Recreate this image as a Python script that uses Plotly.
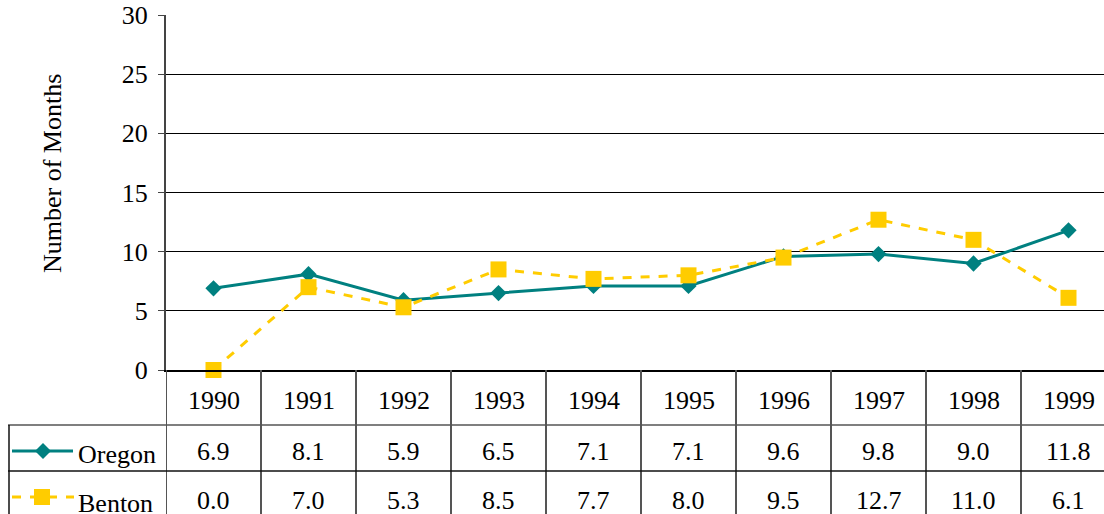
import plotly.graph_objects as go

years = ["1990", "1991", "1992", "1993", "1994", "1995", "1996", "1997", "1998", "1999"]
oregon = [6.9, 8.1, 5.9, 6.5, 7.1, 7.1, 9.6, 9.8, 9.0, 11.8]
benton = [0.0, 7.0, 5.3, 8.5, 7.7, 8.0, 9.5, 12.7, 11.0, 6.1]

TEAL = "#008080"
GOLD = "#FFCC00"
FONT = "Liberation Serif"
TXT = dict(family=FONT, size=26, color="black")

W, H = 1104, 514
L, T = 166, 15
B = H - 370
PH = H - T - B          # plot height in px
PW = W - L              # plot width in px
COL = 95                # table column width in px


def py(p):
    # pixel row -> paper y
    return (H - B - p) / PH


def px_(p):
    # pixel column -> paper x
    return (p - L) / PW


xs = list(range(len(years)))

fig = go.Figure()
fig.add_trace(go.Scatter(
    x=xs, y=oregon, mode="lines+markers", name="Oregon",
    line=dict(color=TEAL, width=3),
    marker=dict(symbol="diamond", size=12.5, color=TEAL),
    cliponaxis=False,
))
fig.add_trace(go.Scatter(
    x=xs, y=benton, mode="lines+markers", name="Benton",
    line=dict(color=GOLD, width=3, dash="dash"),
    marker=dict(symbol="square", size=16, color=GOLD),
    cliponaxis=False,
))

shapes = []
bottom = -B / PH
# vertical table lines
for i in range(len(years) + 1):
    shapes.append(dict(type="line", xref="x", yref="paper",
                       x0=i - 0.5, x1=i - 0.5, y0=bottom, y1=0,
                       line=dict(color="#555555", width=2)))
# horizontal table lines
for p, c in [(425, "#555555"), (471, "#111111")]:
    shapes.append(dict(type="line", xref="paper", yref="paper",
                       x0=px_(8), x1=1, y0=py(p), y1=py(p),
                       line=dict(color=c, width=1.5)))
shapes.append(dict(type="line", xref="paper", yref="paper",
                   x0=px_(9), x1=px_(9), y0=bottom, y1=py(425),
                   line=dict(color="#111111", width=1.5)))

# legend keys inside the table
shapes.append(dict(type="line", xref="paper", yref="paper",
                   x0=px_(12), x1=px_(73), y0=py(451), y1=py(451),
                   line=dict(color=TEAL, width=3)))
d = 8
shapes.append(dict(type="path", xref="paper", yref="paper",
                   path=f"M {px_(43)} {py(451 - d)} L {px_(43 + d)} {py(451)} "
                        f"L {px_(43)} {py(451 + d)} L {px_(43 - d)} {py(451)} Z",
                   fillcolor=TEAL, line=dict(width=0)))
shapes.append(dict(type="line", xref="paper", yref="paper",
                   x0=px_(12), x1=px_(74), y0=py(497), y1=py(497),
                   line=dict(color=GOLD, width=3, dash="dash")))
s = 8
shapes.append(dict(type="rect", xref="paper", yref="paper",
                   x0=px_(42 - s), x1=px_(42 + s), y0=py(497 + s), y1=py(497 - s),
                   fillcolor=GOLD, line=dict(width=0)))

ann = []
for i, yr in enumerate(years):
    ann.append(dict(x=i, xref="x", y=py(401), yref="paper", text=yr,
                    showarrow=False, yanchor="middle", font=TXT))
    ann.append(dict(x=i, xref="x", y=py(452), yref="paper", text=f"{oregon[i]:.1f}",
                    showarrow=False, yanchor="middle", font=TXT))
    ann.append(dict(x=i, xref="x", y=py(500), yref="paper", text=f"{benton[i]:.1f}",
                    showarrow=False, yanchor="middle", font=TXT))
ann.append(dict(x=px_(76), xref="paper", y=py(455), yref="paper", text="Oregon",
                showarrow=False, xanchor="left", yanchor="middle", font=TXT))
ann.append(dict(x=px_(76), xref="paper", y=py(503), yref="paper", text="Benton",
                showarrow=False, xanchor="left", yanchor="middle", font=TXT))
ann.append(dict(x=px_(53), xref="paper", y=py(174), yref="paper",
                text="Number of Months", textangle=-90, showarrow=False,
                xanchor="center", yanchor="middle", font=TXT))

fig.update_layout(
    width=W, height=H,
    margin=dict(l=L, r=0, t=T, b=B),
    plot_bgcolor="white", paper_bgcolor="white",
    showlegend=False,
    font=TXT,
    shapes=shapes, annotations=ann,
    xaxis=dict(range=[-0.5, -0.5 + PW / COL], showticklabels=False,
               showgrid=False, zeroline=False, showline=True,
               linecolor="black", linewidth=2, ticks="", automargin=False),
    yaxis=dict(range=[0, 30], dtick=5, showline=True, linecolor="#444444",
               linewidth=2, ticks="outside", ticklen=6, tickcolor="#444444",
               showgrid=True, gridcolor="black", gridwidth=1, zeroline=False,
               tickfont=TXT, ticklabeloverflow="allow", ticklabelstandoff=5,
               automargin=False),
)

# the page body has a default 8px margin; drop it so the figure fills the window
fig.write_html("out.html", config={"displayModeBar": False},
               post_script="document.body.style.margin = '0';")
